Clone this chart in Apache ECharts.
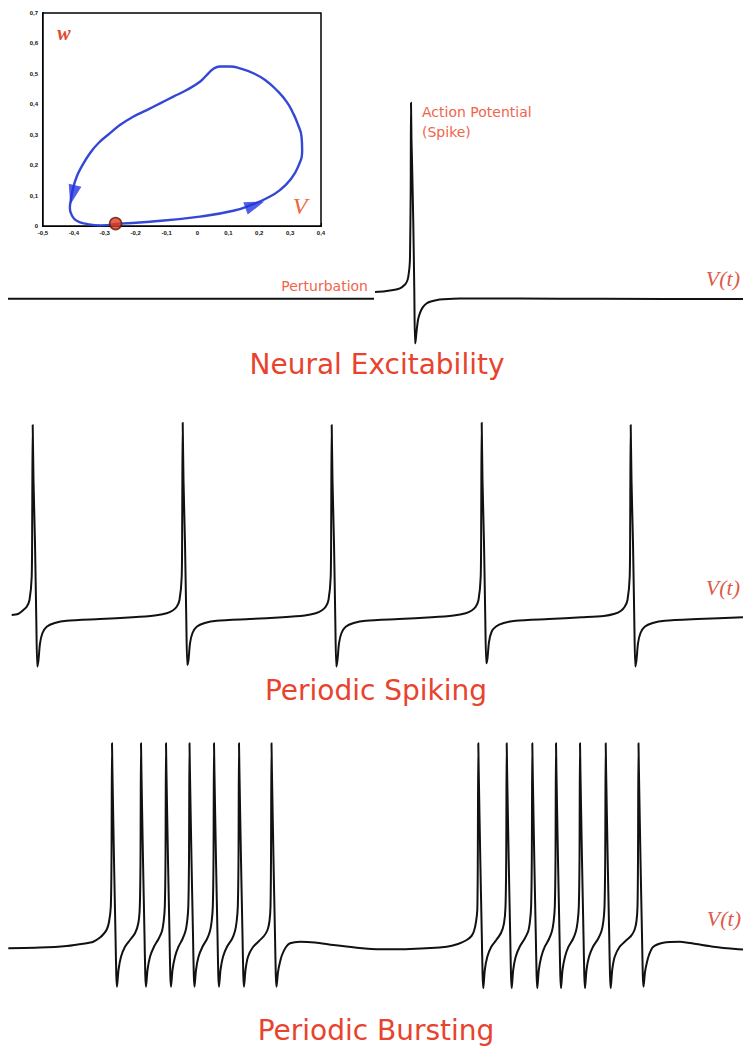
<!DOCTYPE html>
<html><head><meta charset="utf-8">
<script src="https://cdn.jsdelivr.net/npm/echarts@6/dist/echarts.min.js"></script>
<style>html,body{margin:0;padding:0;background:#fff}#c{width:743px;height:1051px}</style>
</head><body><div id="c"></div>
<script>
// ---- Inset phase plane (V, w) ----
const insetVTicks = [-0.5, -0.4, -0.3, -0.2, -0.1, 0, 0.1, 0.2, 0.3, 0.4];
const insetWTicks = [0, 0.1, 0.2, 0.3, 0.4, 0.5, 0.6, 0.7];
const limitCycle = [
[-0.267,0.007],[-0.154,0.014],[0.008,0.031],[0.116,0.05],[0.181,0.072],[0.224,0.091],[0.267,0.118],[0.300,0.151],[0.326,0.195],[0.339,0.250],[0.337,0.293],[0.324,0.337],[0.310,0.370],[0.289,0.408],[0.256,0.447],[0.219,0.480],[0.181,0.502],[0.138,0.518],[0.105,0.524],[0.073,0.524],[0.051,0.516],[0.030,0.496],[0.008,0.474],[-0.035,0.447],[-0.078,0.425],[-0.121,0.403],[-0.164,0.381],[-0.208,0.359],[-0.251,0.332],[-0.283,0.305],[-0.321,0.272],[-0.348,0.239],[-0.375,0.195],[-0.391,0.162],[-0.404,0.118],[-0.410,0.085],[-0.413,0.058],[-0.407,0.036],[-0.391,0.017],[-0.359,0.007],[-0.315,0.002],[-0.267,0.007]
];
const restPoint = [-0.265, 0.008];
const arrowPoints = [[0.186, 0.069], [-0.404, 0.102]];
const arrowAngles = [-70, 166];

// ---- Row 1: neural excitability, V (mV) vs t (ms) ----
const excRest = [[3.2,-65.1],[149.6,-65.1]];
const excResponse = [
[150,-61.75],[154,-61.4],[157.32,-60.75],[159.2,-60.25],[160.68,-59.4],[161.8,-58.25],[162.4,-57.4],[163,-55.75],[163.32,-54.1],[163.8,-49.25],[164,-44.1],[164.28,-10.75],[164.4,32.9],[164.6,14.25],[164.8,4.25],[165.32,-27.4],[165.72,-60.75],[166,-87.4],[166.28,-85.75],[166.68,-80.75],[167.2,-75.75],[167.72,-73.25],[168.4,-71],[169.32,-69.1],[170.6,-67.5],[172,-66.6],[174.4,-65.85],[177.32,-65.4],[184,-65],[208,-65.05],[240,-65.15],[297.2,-65.25]
];

// ---- Row 2: periodic spiking ----
const spiking = [
[4.68,-62.5],[7.2,-62.0],[9.08,-60.25],[10.68,-58.35],[11.8,-55],[12.68,-43.35],[12.88,-15],[13.08,32.5],[13.4,5],[14,-26.5],[14.52,-65],[14.92,-88.35],[15.4,-85],[16,-76.65],[17,-71.5],[18.68,-68.35],[21.88,-66.5],[26.68,-65.35],[39.88,-64.5],[53.08,-63.65],[61.88,-62.75],
[66.68,-61.65],[69.08,-60.25],[70.68,-58.35],[71.8,-55],[72.68,-43.35],[72.88,-15],[73.08,33.65],[73.4,5],[74,-26.5],[74.52,-65],[74.92,-87.5],[75.4,-85],[76,-76.65],[77,-71.5],[78.68,-68.35],[81.88,-66.5],[86.68,-65.35],[99.88,-64.5],[113.08,-63.65],[121.88,-62.75],
[126.28,-61.65],[128.68,-60.25],[130.28,-58.35],[131.4,-55],[132.28,-43.35],[132.48,-15],[132.68,32.5],[133.0,5],[133.6,-26.5],[134.12,-65],[134.52,-88.35],[135.0,-85],[135.6,-76.65],[136.6,-71.5],[138.28,-68.35],[141.48,-66.5],[146.28,-65.35],[159.48,-64.5],[172.68,-63.65],[181.48,-62.75],
[186.28,-61.65],[188.68,-60.25],[190.28,-58.35],[191.4,-55],[192.28,-43.35],[192.48,-15],[192.68,33.65],[193.0,5],[193.6,-26.5],[194.12,-65],[194.52,-86.65],[195.0,-84],[195.6,-76],[196.6,-71],[198.28,-68.35],[201.48,-66.5],[206.28,-65.35],[219.48,-64.5],[232.68,-63.65],[241.48,-63.0],
[245.88,-61.9],[248.28,-60.5],[249.88,-58.35],[251.0,-55],[251.88,-43.35],[252.08,-15],[252.28,32.5],[252.6,5],[253.2,-26.5],[253.72,-65],[254.12,-88.35],[254.6,-85],[255.2,-76.65],[256.2,-71.5],[257.88,-68.35],[261.08,-66.5],[265.88,-65.35],[279.08,-64.5],[297.2,-63.6]
];

// ---- Row 3: periodic bursting ----
const bursting = [
[3.32,-65.15],[16,-64.8],[26.68,-64],[34,-62.75],[37.32,-61.85],[40,-59.75],[41.6,-57.75],[42.8,-55.5],[43.6,-52],[44.32,-44.35],[44.6,-21],[44.8,37.35],[44.96,24],[45.6,-21],[46.2,-58.5],[46.52,-78.5],[46.8,-84.35],[47.4,-76],[48.4,-69.35],[50,-64.35],[52,-61],[54,-57.65],[55.32,-52.65],[55.92,-44.35],[56.2,-21],[56.4,37.35],[56.56,24],[57.2,-21],[57.8,-58.5],[58.12,-78.5],[58.4,-84.35],[59,-76],[60,-69.35],[61.6,-64.35],[63.4,-60.5],[64.8,-56.5],[65.48,-51.5],[65.92,-44.35],[66.2,-21],[66.4,37.35],[66.56,24],[67.2,-21],[67.8,-58.5],[68.12,-78.5],[68.4,-84.35],[69,-76],[70,-69.35],[71.4,-64.35],[73,-60.5],[74.2,-56.5],[74.88,-51.5],[75.32,-44.35],[75.6,-21],[75.8,37.35],[75.96,24],[76.6,-21],[77.2,-58.5],[77.52,-78.5],[77.8,-84.35],[78.4,-76],[79.4,-69.35],[81,-64.35],[82.8,-60.5],[84,-56.5],[84.68,-51.5],[85.12,-44.35],[85.4,-21],[85.6,37.35],[85.76,24],[86.4,-21],[87,-58.5],[87.32,-78.5],[87.6,-84.35],[88.2,-76],[89.2,-69.35],[90.8,-64.35],[92.8,-60.5],[94,-56.5],[94.68,-51.5],[95.12,-44.35],[95.4,-21],[95.6,37.35],[95.76,24],[96.4,-21],[97,-58.5],[97.32,-78.5],[97.6,-84.35],[98.2,-76],[99.2,-69.35],[101.2,-64.5],[103.6,-61.5],[105.6,-59],[107,-56],[107.8,-51.5],[108.2,-44.35],[108.4,-21],[108.6,37.35],[108.76,24],[109.4,-21],[110,-58.5],[110.32,-78.5],[110.6,-84.35],[111.2,-77],[112,-72],[112.8,-68.5],[114.4,-64.5],[116,-62.65],[120,-61.85],[126,-62.25],[133.32,-63.5],[142,-64.75],[152,-65.65],[164,-65.5],[178.68,-64.35],[183.2,-63],[186.68,-61],[188.6,-59],[189.6,-56.5],[190.4,-52],[190.92,-46],[191.12,-21],[191.32,37.35],[191.48,24],[192.12,-21],[192.72,-58.5],[193.04,-78.5],[193.32,-85.15],[193.92,-76],[194.92,-69.35],[196.52,-64.35],[198.52,-61],[200.4,-57.5],[201.6,-52.65],[202.2,-44.35],[202.48,-21],[202.68,37.35],[202.84,24],[203.48,-21],[204.08,-58.5],[204.4,-78.5],[204.68,-85.15],[205.28,-76],[206.28,-69.35],[207.88,-64.35],[209.8,-60.5],[211.32,-56.5],[212,-51.5],[212.44,-44.35],[212.72,-21],[212.92,37.35],[213.08,24],[213.72,-21],[214.32,-58.5],[214.64,-78.5],[214.92,-85.15],[215.52,-76],[216.52,-69.35],[217.92,-64.35],[219.6,-60.5],[220.8,-56.5],[221.48,-51.5],[221.92,-44.35],[222.2,-21],[222.4,37.35],[222.56,24],[223.2,-21],[223.8,-58.5],[224.12,-78.5],[224.4,-85.15],[225,-76],[226,-69.35],[227.4,-64.35],[229.2,-60.5],[230.4,-56.5],[231.08,-51.5],[231.52,-44.35],[231.8,-21],[232,37.35],[232.16,24],[232.8,-21],[233.4,-58.5],[233.72,-78.5],[234,-85.15],[234.6,-76],[235.6,-69.35],[237.2,-64.35],[239.2,-60.5],[240.6,-56.5],[241.36,-51.5],[241.8,-44.35],[242.08,-21],[242.28,37.35],[242.44,24],[243.08,-21],[243.68,-58.5],[244,-78.5],[244.28,-85.15],[244.88,-76],[245.88,-69.35],[247.8,-64.5],[250.2,-61.5],[252.4,-59],[253.8,-56],[254.6,-51.5],[255,-44.35],[255.2,-21],[255.4,37.35],[255.56,24],[256.2,-21],[256.8,-58.5],[257.12,-78.5],[257.4,-84.35],[258,-77],[258.8,-72],[259.6,-68.5],[261.2,-64.5],[265.32,-62.35],[272,-61.85],[278.4,-63],[285.32,-64.35],[295.32,-65.65],[297.2,-65.75]
];

const titles = ['Neural Excitability', 'Periodic Spiking', 'Periodic Bursting'];

const chart = echarts.init(document.getElementById('c'), null, {renderer: 'svg'});
const fmt = v => (Math.round(v * 10) / 10).toString().replace('.', ',');
const traceStyle = {color: '#111', width: 2, join: 'round'};
const timeMax = 297.2;
const rowGrid = top => ({left: 0, top: top, width: 743, height: 280});
const hiddenX = i => ({gridIndex: i, type: 'value', min: 0, max: timeMax, show: false});
const hiddenY = i => ({gridIndex: i, type: 'value', min: -100, max: 40, show: false});
const trace = (i, data) => ({type: 'line', xAxisIndex: i, yAxisIndex: i, data: data, smooth: 0.25, symbol: 'none', showSymbol: false, lineStyle: traceStyle, silent: true, z: 3});

const redTitle = {fill: '#e8432d', fontSize: 28, fontFamily: '"DejaVu Sans", sans-serif'};
const smallRed = {fill: '#f0644a', fontSize: 14, fontFamily: '"DejaVu Sans", sans-serif'};
const vtStyle = {fill: '#dc5a4a', fontSize: 22, fontStyle: 'italic', fontFamily: '"Liberation Serif", "DejaVu Serif", serif'};
const txt = (x, y, text, st, align) => ({type: 'text', x: x, y: y, z: 10, silent: true,
  style: Object.assign({text: text, align: align || 'center', verticalAlign: 'middle', textAlign: align || 'center', textVerticalAlign: 'middle'}, st)});

chart.setOption({
  animation: false,
  backgroundColor: '#fff',
  grid: [
    {left: 43, top: 13, width: 278, height: 213, show: true, borderColor: '#000', borderWidth: 1.5, backgroundColor: '#fff', z: 2},
    rowGrid(88.5), rowGrid(410), rowGrid(738)
  ],
  xAxis: [
    {gridIndex: 0, type: 'value', min: insetVTicks[0], max: insetVTicks[insetVTicks.length - 1], interval: 0.1,
     axisLine: {show: true, onZero: false, lineStyle: {color: '#000', width: 2}},
     axisTick: {show: true, inside: true, length: 3, lineStyle: {color: '#000'}},
     axisLabel: {fontSize: 6, color: '#111', fontWeight: 'bold', margin: 4, formatter: fmt},
     splitLine: {show: false}},
    hiddenX(1), hiddenX(2), hiddenX(3)
  ],
  yAxis: [
    {gridIndex: 0, type: 'value', min: insetWTicks[0], max: insetWTicks[insetWTicks.length - 1], interval: 0.1,
     axisLine: {show: true, onZero: false, lineStyle: {color: '#000', width: 2}},
     axisTick: {show: true, inside: true, length: 3, lineStyle: {color: '#000'}},
     axisLabel: {fontSize: 6, color: '#111', fontWeight: 'bold', margin: 5, formatter: fmt},
     splitLine: {show: false}},
    hiddenY(1), hiddenY(2), hiddenY(3)
  ],
  series: [
    {type: 'line', xAxisIndex: 0, yAxisIndex: 0, data: limitCycle, smooth: 0.5, symbol: 'none', showSymbol: false,
     lineStyle: {color: '#3447d6', width: 2.4}, silent: true, z: 3},
    {type: 'scatter', xAxisIndex: 0, yAxisIndex: 0, silent: true, z: 4,
     data: arrowPoints.map((p, i) => ({value: p, symbolRotate: arrowAngles[i]})),
     symbol: 'triangle', symbolSize: [13, 20], itemStyle: {color: '#2436e0'}},
    {type: 'scatter', xAxisIndex: 0, yAxisIndex: 0, silent: true, z: 5, data: [restPoint],
     symbol: 'circle', symbolSize: 12, itemStyle: {color: '#e23c1c', borderColor: '#5c1608', borderWidth: 1.5}},
    trace(1, excRest), trace(1, excResponse),
    trace(2, spiking),
    trace(3, bursting)
  ],
  graphic: [
    txt(64, 33, 'w', {fill: '#e04a2a', fontSize: 20, fontStyle: 'italic', fontWeight: 'bold', fontFamily: '"Liberation Serif", "DejaVu Serif", serif'}),
    txt(300, 206, 'V', {fill: '#ec6a3c', fontSize: 24, fontStyle: 'italic', fontFamily: '"Liberation Serif", "DejaVu Serif", serif'}),
    txt(422, 112, 'Action Potential', smallRed, 'left'),
    txt(422, 132, '(Spike)', smallRed, 'left'),
    txt(368, 286, 'Perturbation', smallRed, 'right'),
    txt(740, 278, 'V(t)', vtStyle, 'right'),
    txt(740, 587, 'V(t)', vtStyle, 'right'),
    txt(741, 918, 'V(t)', vtStyle, 'right'),
    txt(377, 364, titles[0], redTitle),
    txt(376, 690, titles[1], redTitle),
    txt(376, 1030, titles[2], redTitle)
  ]
});
</script></body></html>
